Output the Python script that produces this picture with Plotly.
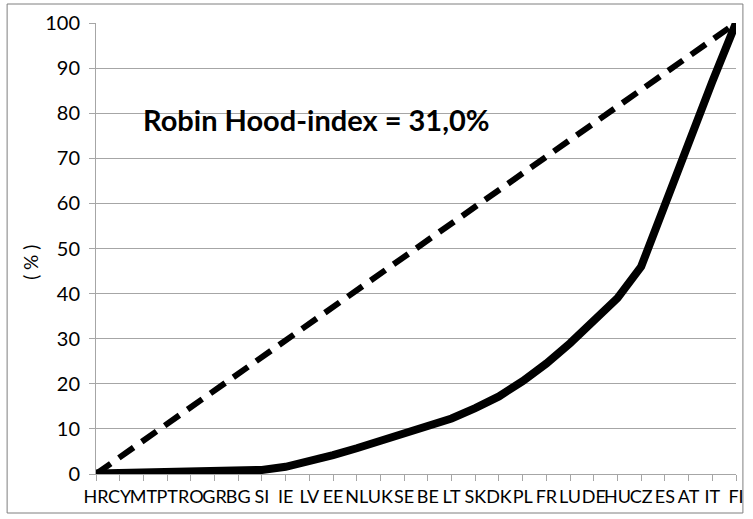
import plotly.graph_objects as go

countries = ["HR", "CY", "MT", "PT", "RO", "GR", "BG", "SI", "IE", "LV", "EE", "NL", "UK", "SE",
             "BE", "LT", "SK", "DK", "PL", "FR", "LU", "DE", "HU", "CZ", "ES", "AT", "IT", "FI"]
cumulative_share = [0.1, 0.2, 0.3, 0.3, 0.4, 0.5, 0.6, 0.9, 1.6, 2.7, 4.2, 5.7, 7.3, 9.0,
                    10.6, 12.3, 14.6, 17.2, 20.6, 24.5, 29.0, 34.0, 39.0, 46.0, 60.0, 73.0, 87.0, 100.0]
equality_x = ["HR", "FI"]
equality_y = [0, 100]
y_ticks = [0, 10, 20, 30, 40, 50, 60, 70, 80, 90, 100]

font_family = "Lato, 'Open Sans', sans-serif"
grid_color = "#a6a6a6"

fig = go.Figure()
fig.add_trace(go.Scatter(
    x=equality_x, y=equality_y, mode="lines",
    line=dict(color="black", width=6, dash="18px,10px"),
))
fig.add_trace(go.Scatter(
    x=countries, y=cumulative_share, mode="lines",
    line=dict(color="black", width=8),
))

fig.update_layout(
    width=753, height=519,
    margin=dict(l=96, r=9, t=23, b=45),
    paper_bgcolor="white", plot_bgcolor="white",
    showlegend=False,
    font=dict(family=font_family, size=16, color="black"),
    xaxis=dict(
        type="category", categoryorder="array", categoryarray=countries,
        range=[0, len(countries) - 1],
        showgrid=False, showline=True, linecolor=grid_color, linewidth=1,
        ticks="outside", ticklen=6, tickcolor=grid_color,
        tickfont=dict(size=18), tickangle=0,
    ),
    yaxis=dict(
        range=[0, 100], tickvals=y_ticks,
        showgrid=True, gridcolor=grid_color, gridwidth=1,
        showline=True, linecolor=grid_color, linewidth=1,
        ticks="outside", ticklen=6, tickcolor=grid_color,
        tickfont=dict(size=20), zeroline=False, ticklabelstandoff=5,
    ),
    annotations=[
        dict(text="<b>Robin Hood-index = 31,0%</b>", x=(319 - 96) / 648, y=(474 - 119) / 451,
             xref="paper", yref="paper", xanchor="center", yanchor="middle",
             showarrow=False, font=dict(size=29)),
        dict(text="( % )", x=(29 - 96) / 648, y=(474 - 262) / 451,
             xref="paper", yref="paper", xanchor="center", yanchor="middle",
             showarrow=False, textangle=-90, font=dict(size=19)),
    ],
    shapes=[
        dict(type="rect", xref="paper", yref="paper",
             x0=(6 - 96) / 648, x1=(751 - 96) / 648,
             y0=(474 - 513) / 451, y1=(474 - 4) / 451,
             line=dict(color="#7f7f7f", width=1)),
    ],
)

fig.write_html(
    "out.html",
    config={"displayModeBar": False, "responsive": False},
    post_script="document.body.style.margin='0';document.body.style.overflow='hidden';",
)
